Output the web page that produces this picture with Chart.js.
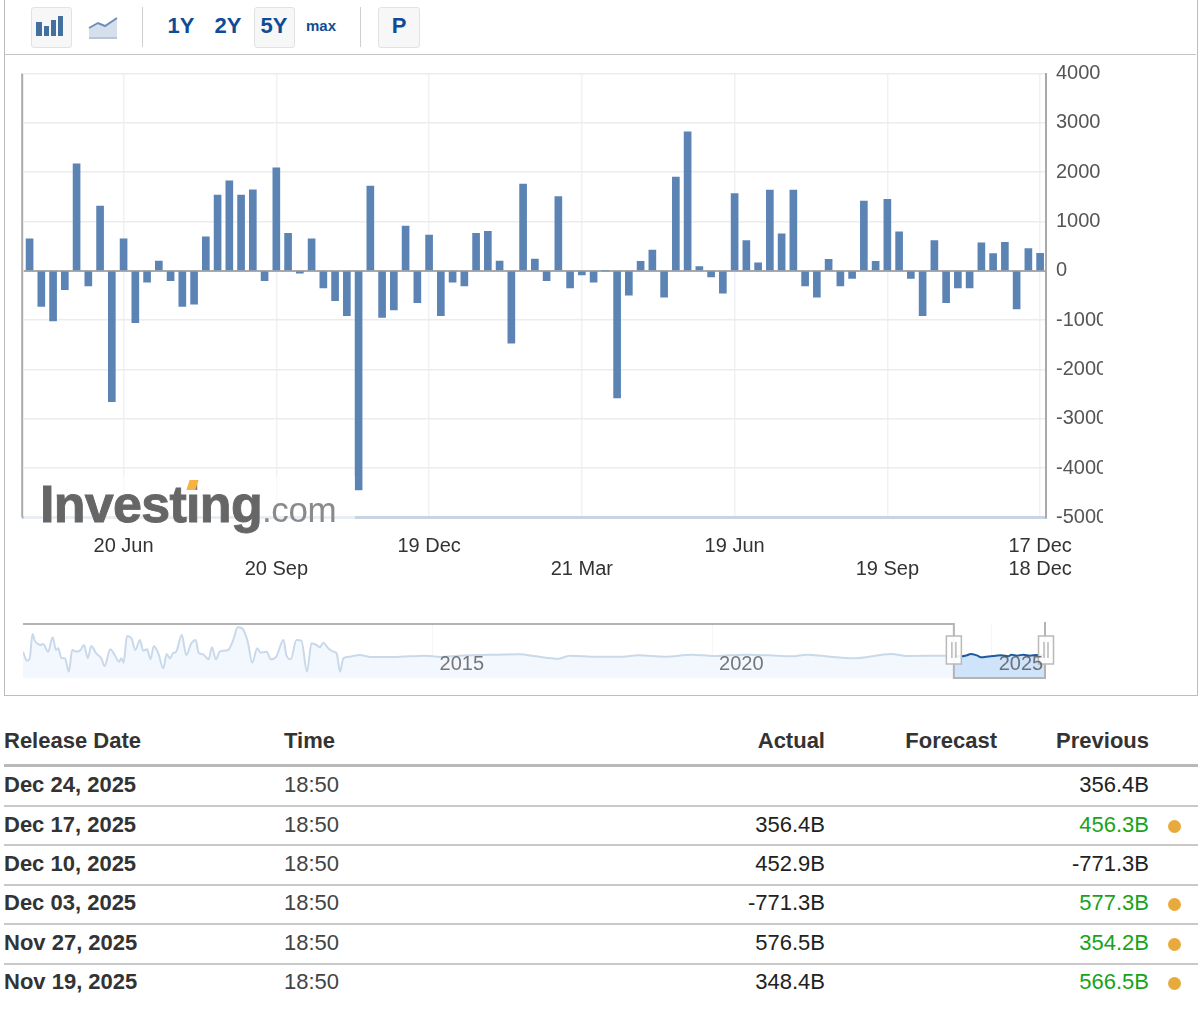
<!DOCTYPE html>
<html>
<head>
<meta charset="utf-8">
<script src="https://cdn.jsdelivr.net/npm/chart.js@4"></script>
<style>
html,body{margin:0;padding:0;background:#fff;width:1200px;height:1025px;overflow:hidden;font-family:"Liberation Sans",Arial,sans-serif}
.abs{position:absolute}
#frame{left:4px;top:-2px;width:1192px;height:696px;border:1px solid #bdbdbd}
#toolline{left:5px;top:54px;width:1191px;height:1px;background:#c4c4c4}
.btn{position:absolute;top:7px;height:39px;background:#f7f7f7;border:1px solid #e2e2e2;border-radius:3px}
.sep{position:absolute;top:7px;width:1px;height:40px;background:#cfcfcf}
.tool{position:absolute;color:#0f4c97;font-weight:700;font-size:22px;line-height:26px;transform:translateX(-50%);top:13px}
#mainChart{position:absolute;left:0;top:0}
#navChart{position:absolute;left:0;top:620px}
#fade{left:24px;top:476px;width:331px;height:54px;background:rgba(255,255,255,.6)}
#logo{left:40px;top:471px;white-space:nowrap;line-height:66px;height:66px}
#logo b{font-size:52px;letter-spacing:-.7px;color:#666;font-weight:700;-webkit-text-stroke:.9px #666}
#logo span{font-size:35px;color:#8a8a8a;letter-spacing:-.4px}
#tick{left:188px;top:480px;width:9px;height:10px;background:#f6b244;transform:skewX(-18deg)}
.cell{position:absolute;font-size:22px;line-height:26px;color:#333;white-space:nowrap}
.rule{position:absolute;left:4px;width:1194px;background:#c9c9c9;height:2px}
.dot{position:absolute;width:13px;height:13px;border-radius:50%;background:#e9aa3d}
</style>
</head>
<body>
<div class="abs" id="frame"></div>
<div class="abs" id="toolline"></div>
<div class="btn" style="left:31px;width:39px"></div>
<svg class="abs" style="left:34px;top:14px" width="32" height="24"><g fill="#44709f"><rect x="2" y="8" width="6" height="14"/><rect x="10" y="12" width="5" height="10"/><rect x="17" y="6" width="5" height="16"/><rect x="24" y="2" width="5" height="20"/></g></svg>
<svg class="abs" style="left:88px;top:14px" width="32" height="28"><path d="M1 14 L10 9 L17 12 L29 4 V23 H1 Z" fill="#d6e0ec"/><path d="M1 14 L10 9 L17 12 L29 4" fill="none" stroke="#6c8fb8" stroke-width="2"/><rect x="1" y="23" width="28" height="2" fill="#b9c6d6"/></svg>
<div class="sep" style="left:142px"></div>
<div class="tool" style="left:181px">1Y</div>
<div class="tool" style="left:228px">2Y</div>
<div class="btn" style="left:254px;width:39px"></div>
<div class="tool" style="left:274px">5Y</div>
<div class="tool" style="left:321px;font-size:15px">max</div>
<div class="sep" style="left:360px"></div>
<div class="btn" style="left:378px;width:40px"></div>
<div class="tool" style="left:399px">P</div>

<canvas id="mainChart" width="1103" height="600"></canvas>
<div class="abs" id="fade"></div>
<div class="abs" id="logo"><b>Investing</b><span>.com</span></div>
<div class="abs" id="tick"></div>
<canvas id="navChart" width="1105" height="70"></canvas>
<div id="table"></div>

<script>
// ---- weekly release dates (categories) ----
const weeks = [
"2024-04-24","2024-05-01","2024-05-08","2024-05-15","2024-05-22","2024-05-29","2024-06-05","2024-06-12","2024-06-19","2024-06-26",
"2024-07-03","2024-07-10","2024-07-17","2024-07-24","2024-07-31","2024-08-07","2024-08-14","2024-08-21","2024-08-28",
"2024-09-04","2024-09-11","2024-09-18","2024-09-25","2024-10-02","2024-10-09","2024-10-16","2024-10-23","2024-10-30",
"2024-11-06","2024-11-13","2024-11-20","2024-11-27","2024-12-04","2024-12-11","2024-12-18","2024-12-25",
"2025-01-01","2025-01-08","2025-01-15","2025-01-22","2025-01-29","2025-02-05","2025-02-12","2025-02-19","2025-02-26",
"2025-03-05","2025-03-12","2025-03-19","2025-03-26","2025-04-02","2025-04-09","2025-04-16","2025-04-23","2025-04-30",
"2025-05-07","2025-05-14","2025-05-21","2025-05-28","2025-06-04","2025-06-11","2025-06-18","2025-06-25",
"2025-07-02","2025-07-09","2025-07-16","2025-07-23","2025-07-30","2025-08-06","2025-08-13","2025-08-20","2025-08-27",
"2025-09-03","2025-09-10","2025-09-17","2025-09-24","2025-10-01","2025-10-08","2025-10-15","2025-10-22","2025-10-29",
"2025-11-05","2025-11-12","2025-11-19","2025-11-26","2025-12-03","2025-12-10","2025-12-17"];

// ---- series values ----
const actual = [
650,-719,-1017,-380,2168,-305,1315,-2650,650,-1050,-230,200,-197,-719,-678,690,1537,1825,1537,1644,-197,2087,758,-47,650,
-346,-603,-908,-4440,1718,-942,-793,906,-644,725,-908,-230,-305,758,799,200,-1464,1758,240,-197,1503,-346,-81,-230,0,
-2576,-495,195,423,-535,1899,2819,87,-122,-454,1564,611,161,1638,752,1638,-305,-535,235,-305,-156,1416,195,1450,792,
-156,-908,611,-644,-346,-346,570,348.4,576.5,-771.3,452.9,356.4];

// ---- axis ticks ----
const yMin = -5000, yMax = 4000, yStep = 1000;
const tickWeeks = ["2024-06-19","2024-09-18","2024-12-18","2025-03-19","2025-06-18","2025-09-17","2025-12-17"];
const tickRow1  = ["20 Jun"," ","19 Dec"," ","19 Jun"," ","17 Dec"];
const tickRow2  = [" ","20 Sep"," ","21 Mar"," ","19 Sep","18 Dec"];

// ---- navigator (long history) ----
const navYears = [
2007.67,2007.74,2007.79,2007.84,2007.88,2007.94,2007.98,2008.03,2008.12,2008.20,2008.26,2008.30,2008.36,2008.42,2008.49,2008.55,2008.63,2008.70,2008.76,2008.83,2008.89,2008.98,
2009.07,2009.13,2009.23,2009.31,2009.39,2009.43,2009.47,2009.53,2009.61,2009.68,2009.76,2009.82,2009.89,2009.95,
2010.01,2010.09,2010.18,2010.24,2010.30,2010.35,2010.41,2010.51,2010.59,2010.68,2010.76,2010.81,2010.89,2010.99,
2011.05,2011.12,2011.19,2011.34,2011.43,2011.51,2011.59,2011.69,2011.77,2011.86,2011.92,
2012.03,2012.10,2012.20,2012.33,2012.38,2012.46,2012.56,2012.65,2012.75,2012.83,2012.92,2012.98,
2013.04,2013.13,2013.22,2013.28,2013.34,2013.40,2013.52,2013.69,2013.89,
2014.30,2014.86,2015.13,2015.47,2016.15,2016.56,2016.84,2017.25,2017.45,2017.93,2018.40,2018.67,2019.15,2019.63,2020.03,2020.60,2021.01,2021.42,2021.69,2022.10,2022.51,2023.21,2023.48,2024.16,2024.32];
const navValues = [
8.7,-9.3,-4.7,44,30.7,24,22,24,8.7,37.3,12,15.3,-4.7,-4.7,-31.3,12,8.7,12,22,-4.7,20,5.3,
-4.7,-20,13.3,2,-11.3,-4.7,-13.3,40,35.3,12,32,10.7,13.3,-6.7,
20,5.3,-24.7,4,-4.7,5.3,8.7,42,2,25.3,32,6.7,3.3,-6.7,
17.3,-6.7,8.7,12,32,57.3,55.3,28.7,-13.3,15.3,6.7,
8.7,-6.7,-1.3,32,2,-6.7,32,30.7,-31.3,25.3,22,17.3,
26.7,15.3,8.7,5.3,-31.3,-4.7,-1.3,2,-2,
-2,0.7,-2,0.7,2.7,3.3,-0.7,-5.3,0.7,-1.3,-1.3,1.3,-1.3,2.7,0,2.7,1.3,-0.7,2.7,-1.3,-4.7,4,0,0.7,0.7];
const selYears  = [2024.32,2024.46,2024.55,2024.62,2024.73,2024.82,2024.90,2025.08,2025.17,2025.29,2025.35,2025.45,2025.56,2025.68,2025.80,2025.95];
const selValues = [0.7,-0.7,1.3,4,1.3,-2.7,-1.3,0.7,1.3,-0.7,2.7,0.7,2.7,0.7,2,1.5];
const navYearTicks = [2015,2020,2025];

// ---- table ----
const tblDates    = ["Dec 24, 2025","Dec 17, 2025","Dec 10, 2025","Dec 03, 2025","Nov 27, 2025","Nov 19, 2025"];
const tblTimes    = ["18:50","18:50","18:50","18:50","18:50","18:50"];
const tblActual   = ["","356.4B","452.9B","-771.3B","576.5B","348.4B"];
const tblPrevious = ["356.4B","456.3B","-771.3B","577.3B","354.2B","566.5B"];
const tblBeat     = [false,true,false,true,true,true];

const FONT = '"Liberation Sans", Arial, sans-serif';

const leftEdge = {
  id:'leftEdge',
  afterDraw(c){
    const {ctx,chartArea:a}=c;
    ctx.save();ctx.fillStyle='#ababab';
    ctx.fillRect(a.left-2.5,a.top,2,a.bottom-a.top);
    ctx.restore();
  }
};

new Chart(document.getElementById('mainChart'),{
  type:'bar',
  data:{labels:weeks,datasets:[{data:actual,backgroundColor:'#5b84b4',borderWidth:0,barThickness:7}]},
  plugins:[leftEdge],
  options:{
    responsive:false,animation:false,
    layout:{padding:{left:23.7,top:73.5,right:0,bottom:0}},
    plugins:{legend:{display:false},tooltip:{enabled:false}},
    scales:{
      x:{
        offset:true,
        grid:{offset:false,color:'#eff1f5',lineWidth:1.5,drawTicks:false},
        border:{color:'#c8d3e3',width:3},
        afterBuildTicks(s){s.ticks=s.ticks.filter(t=>tickWeeks.includes(weeks[t.value]));},
        afterFit(s){s.height=82.5;},
        ticks:{
          autoSkip:false,maxRotation:0,minRotation:0,padding:18,color:'#333',
          font:{family:FONT,size:20,lineHeight:1.13},
          callback(v){const i=tickWeeks.indexOf(weeks[v]);return [tickRow1[i],tickRow2[i]];}
        }
      },
      y:{
        position:'right',min:yMin,max:yMax,
        grid:{
          color:c=>c.tick.value===0?'#a9a9a9':(c.tick.value===yMin?'transparent':'#ececec'),
          lineWidth:c=>c.tick.value===0?2:1.6,drawTicks:false
        },
        border:{color:'#a9a9a9',width:2},
        afterFit(s){s.width=57;},
        ticks:{stepSize:yStep,padding:10,color:'#555',font:{family:FONT,size:20},callback:v=>String(v)}
      }
    }
  }
});

const navOverlay = {
  id:'navOverlay',
  afterDatasetsDraw(c){
    const {ctx,chartArea:a}=c, xs=c.scales.x;
    const L=xs.getPixelForValue(selYears[0]), R=xs.getPixelForValue(selYears[selYears.length-1]);
    ctx.save();
    ctx.strokeStyle='#b4b4b4';ctx.lineWidth=2;
    ctx.beginPath();
    ctx.moveTo(a.left,a.top);ctx.lineTo(L,a.top);ctx.lineTo(L,a.bottom);ctx.lineTo(R,a.bottom);ctx.lineTo(R,a.top-2);
    ctx.stroke();
    [L,R+1].forEach(x=>{
      ctx.fillStyle='rgba(255,255,255,.92)';ctx.strokeStyle='#b9b9b9';ctx.lineWidth=1.5;
      ctx.beginPath();ctx.rect(x-7.5,a.top+12,15,28);ctx.fill();ctx.stroke();
      ctx.beginPath();
      ctx.moveTo(x-2,a.top+18);ctx.lineTo(x-2,a.top+34);
      ctx.moveTo(x+2,a.top+18);ctx.lineTo(x+2,a.top+34);
      ctx.stroke();
    });
    ctx.restore();
  }
};

new Chart(document.getElementById('navChart'),{
  type:'line',
  data:{datasets:[
    {data:navYears.map((x,i)=>({x,y:navValues[i]})),borderColor:'#c9d9ea',borderWidth:2,backgroundColor:'#f3f8fe',fill:'start',pointRadius:0,cubicInterpolationMode:'monotone'},
    {data:selYears.map((x,i)=>({x,y:selValues[i]})),borderColor:'#1d5b9e',borderWidth:2,backgroundColor:'#cfe3fb',fill:'start',pointRadius:0,cubicInterpolationMode:'monotone'}
  ]},
  plugins:[navOverlay],
  options:{
    responsive:false,animation:false,
    layout:{padding:{left:23,right:60,top:4,bottom:12}},
    plugins:{legend:{display:false},tooltip:{enabled:false}},
    scales:{
      x:{
        type:'linear',min:2007.67,max:2025.95,
        grid:{color:'#f6f6f6',drawTicks:false},
        border:{display:false},
        afterBuildTicks(s){s.ticks=navYearTicks.map(value=>({value}));},
        afterFit(s){s.height=0;},
        ticks:{z:2,mirror:true,padding:2,labelOffset:29,color:'rgba(85,85,85,.8)',maxRotation:0,autoSkip:false,font:{family:FONT,size:20},callback:v=>String(v)}
      },
      y:{min:-44,max:64,display:false}
    }
  }
});

// table
const root=document.getElementById('table');
function cell(text,y,opts){
  const d=document.createElement('div');d.className='cell';d.textContent=text;
  d.style.top=(y-13)+'px';
  if(opts.left!==undefined)d.style.left=opts.left+'px';
  if(opts.right!==undefined)d.style.right=(1200-opts.right)+'px';
  if(opts.bold)d.style.fontWeight='700';
  if(opts.color)d.style.color=opts.color;
  root.appendChild(d);
}
function rule(y,h,c){const d=document.createElement('div');d.className='rule';d.style.top=y+'px';d.style.height=h+'px';if(c)d.style.background=c;root.appendChild(d);}
cell('Release Date',741,{left:4,bold:true});
cell('Time',741,{left:284,bold:true});
cell('Actual',741,{right:825,bold:true});
cell('Forecast',741,{right:997,bold:true});
cell('Previous',741,{right:1149,bold:true});
rule(764,3,'#b9b9b9');
const rowY=[785,825,864,903,943,982], lineY=[805,844,884,923,963];
lineY.forEach(y=>rule(y,1.5));
tblDates.forEach((d,i)=>{
  const y=rowY[i];
  cell(d,y,{left:4,bold:true});
  cell(tblTimes[i],y,{left:284,color:'#444'});
  if(tblActual[i])cell(tblActual[i],y,{right:825,color:'#222'});
  cell(tblPrevious[i],y,{right:1149,color:tblBeat[i]?'#19a319':'#222'});
  if(tblBeat[i]){const o=document.createElement('div');o.className='dot';o.style.left='1168px';o.style.top=(y-5)+'px';root.appendChild(o);}
});
</script>
</body>
</html>
